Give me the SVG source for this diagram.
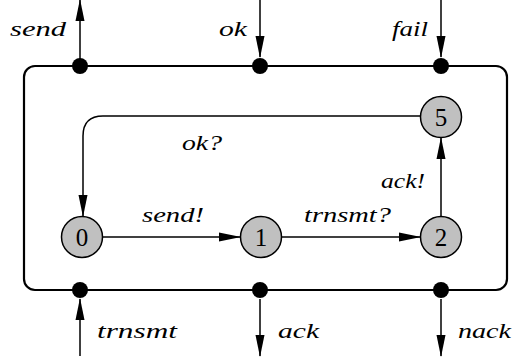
<svg xmlns="http://www.w3.org/2000/svg" width="514" height="364" viewBox="0 0 514 364">
<defs>
<marker id="ah" markerWidth="22" markerHeight="10" refX="21" refY="5" orient="auto" markerUnits="userSpaceOnUse">
<path d="M0,0.5 L22,5 L0,9.5 Z" fill="#000"/>
</marker>
<style>
.lbl{font-family:"Liberation Serif","DejaVu Serif",serif;font-style:italic;font-size:22px;fill:#000}
.num{font-family:"Liberation Serif","DejaVu Serif",serif;font-size:25px;fill:#000;text-anchor:middle}
.st{fill:#c0c0c0;stroke:#000;stroke-width:1.5}
.ln{fill:none;stroke:#000;stroke-width:1.5}
.dot{fill:#000}
</style>
</defs>
<rect width="514" height="364" fill="#fff"/>
<g id="box">
<rect x="24" y="66" width="483" height="224" rx="11" fill="none" stroke="#000" stroke-width="2.2"/>
</g>
<g id="connectors">
<line class="ln" x1="80" y1="66" x2="80" y2="0" marker-end="url(#ah)"/>
<line class="ln" x1="260" y1="0" x2="260" y2="57" marker-end="url(#ah)"/>
<line class="ln" x1="441" y1="0" x2="441" y2="57" marker-end="url(#ah)"/>
<line class="ln" x1="80" y1="356" x2="80" y2="299" marker-end="url(#ah)"/>
<line class="ln" x1="260" y1="299" x2="260" y2="356" marker-end="url(#ah)"/>
<line class="ln" x1="441" y1="299" x2="441" y2="356" marker-end="url(#ah)"/>
<line class="ln" x1="103" y1="237" x2="240" y2="237" marker-end="url(#ah)"/>
<line class="ln" x1="282" y1="237" x2="420" y2="237" marker-end="url(#ah)"/>
<line class="ln" x1="441" y1="216" x2="441" y2="138" marker-end="url(#ah)"/>
<path class="ln" d="M420,116 H103 Q83,116 83,136 V216" marker-end="url(#ah)"/>
</g>
<g id="ports">
<circle class="dot" cx="80" cy="66" r="8"/>
<circle class="dot" cx="260" cy="66" r="8"/>
<circle class="dot" cx="441" cy="66" r="8"/>
<circle class="dot" cx="80" cy="290" r="8"/>
<circle class="dot" cx="260" cy="290" r="8"/>
<circle class="dot" cx="441" cy="290" r="8"/>
</g>
<g id="s0"><circle class="st" cx="82" cy="237" r="20.5"/><text class="num" x="82" y="246">0</text></g>
<g id="s1"><circle class="st" cx="261" cy="237" r="20.5"/><text class="num" x="261" y="246">1</text></g>
<g id="s2"><circle class="st" cx="441" cy="237" r="20.5"/><text class="num" x="441" y="246">2</text></g>
<g id="s5"><circle class="st" cx="441" cy="117" r="20.5"/><text class="num" x="441" y="126">5</text></g>
<g id="labels">
<text class="lbl" x="66" y="36" text-anchor="end" textLength="56" lengthAdjust="spacingAndGlyphs">send</text>
<text class="lbl" x="247" y="36" text-anchor="end" textLength="28" lengthAdjust="spacingAndGlyphs">ok</text>
<text class="lbl" x="428" y="36" text-anchor="end" textLength="36" lengthAdjust="spacingAndGlyphs">fail</text>
<text class="lbl" x="97" y="338" textLength="80" lengthAdjust="spacingAndGlyphs">trnsmt</text>
<text class="lbl" x="278" y="338" textLength="41" lengthAdjust="spacingAndGlyphs">ack</text>
<text class="lbl" x="458" y="338" textLength="53" lengthAdjust="spacingAndGlyphs">nack</text>
<text class="lbl" x="142" y="222" textLength="62" lengthAdjust="spacingAndGlyphs">send!</text>
<text class="lbl" x="304" y="222" textLength="87" lengthAdjust="spacingAndGlyphs">trnsmt?</text>
<text class="lbl" x="381" y="188" textLength="44" lengthAdjust="spacingAndGlyphs">ack!</text>
<text class="lbl" x="182" y="150" textLength="40" lengthAdjust="spacingAndGlyphs">ok?</text>
</g>
</svg>
